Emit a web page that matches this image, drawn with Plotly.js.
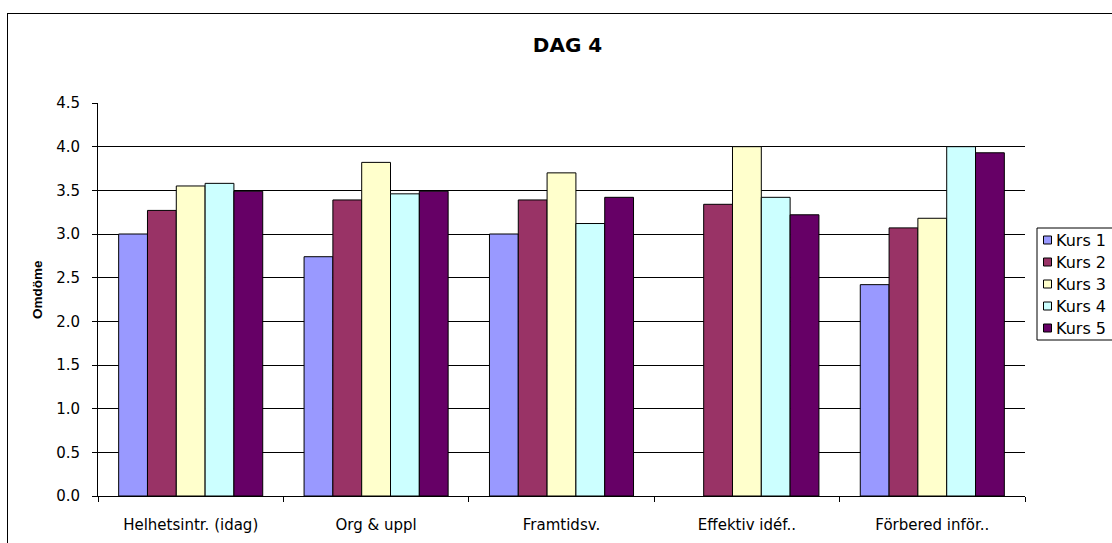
<!DOCTYPE html>
<html>
<head>
<meta charset="utf-8">
<script src="https://cdn.plot.ly/plotly-3.0.1.min.js"></script>
<style>
  html, body { margin: 0; padding: 0; overflow: hidden; background: #fff; }
  #frame { position: absolute; left: 7px; top: 13px; width: 1200px; height: 600px;
           border-left: 1px solid #000; border-top: 1px solid #000; pointer-events: none; z-index: 5; }
  #chart { position: absolute; left: 0; top: 0; width: 1112px; height: 543px; }
</style>
</head>
<body>
<div id="chart"></div>
<div id="frame"></div>
<script>
const categories = ["Helhetsintr. (idag)", "Org & uppl", "Framtidsv.", "Effektiv idéf..", "Förbered inför.."];
const seriesNames = ["Kurs 1", "Kurs 2", "Kurs 3", "Kurs 4", "Kurs 5"];
const kurs1 = [3.00, 2.74, 3.00, null, 2.42];
const kurs2 = [3.27, 3.39, 3.39, 3.34, 3.07];
const kurs3 = [3.55, 3.82, 3.70, 4.00, 3.18];
const kurs4 = [3.58, 3.46, 3.12, 3.42, 4.00];
const kurs5 = [3.49, 3.49, 3.42, 3.22, 3.93];
const seriesValues = [kurs1, kurs2, kurs3, kurs4, kurs5];
const colors = ["#9999FF", "#993366", "#FFFFCC", "#CCFFFF", "#660066"];
const yTicks = [0, 0.5, 1, 1.5, 2, 2.5, 3, 3.5, 4, 4.5];
const yTitle = "Omdöme";
const chartTitle = "DAG 4";

const font = "DejaVu Sans, sans-serif";

// plot-area geometry (pixels) used to place the legend box in paper coordinates
const W = 1112, H = 543, ML = 98, MR = 87, MT = 103, MB = 47;
const PW = W - ML - MR, PH = H - MT - MB;
const px = v => (v - ML) / PW;
const py = v => (H - MB - v) / PH;

const traces = seriesNames.map((name, i) => ({
  type: "bar",
  name: name,
  x: categories,
  y: seriesValues[i],
  marker: { color: colors[i], line: { color: "#000", width: 1 } },
  showlegend: false
}));

// Legend drawn as a boxed list (box edge runs past the page like the reference)
const legendTop = 228, legendBottom = 340, legendLeft = 1037, itemStep = 22, firstItem = 240;
const shapes = [{
  type: "rect", xref: "paper", yref: "paper",
  x0: px(legendLeft), x1: px(1300), y0: py(legendBottom), y1: py(legendTop),
  line: { color: "#000", width: 1 }, fillcolor: "#fff", layer: "above"
}];
const annotations = [{
  xref: "paper", yref: "paper", x: px(37), y: py(289),
  xanchor: "center", yanchor: "middle", showarrow: false, textangle: -90,
  text: "<b>" + yTitle + "</b>",
  font: { family: "Liberation Sans, Arial, sans-serif", size: 13.5, color: "#000" }
}];
seriesNames.forEach((name, i) => {
  const cy = firstItem + itemStep * i;
  shapes.push({
    type: "rect", xref: "paper", yref: "paper",
    x0: px(1043.5), x1: px(1051.5), y0: py(cy + 4), y1: py(cy - 4),
    line: { color: "#000", width: 1 }, fillcolor: colors[i], layer: "above"
  });
  annotations.push({
    xref: "paper", yref: "paper", x: px(1054), y: py(cy + 0.5),
    xanchor: "left", yanchor: "middle", showarrow: false,
    text: name, font: { family: font, size: 16, color: "#000" }
  });
});

const layout = {
  width: W,
  height: H,
  paper_bgcolor: "#fff",
  plot_bgcolor: "#fff",
  margin: { l: ML, r: MR, t: MT, b: MB, autoexpand: false },
  bargap: 0.223,
  bargroupgap: 0,
  barmode: "group",
  font: { family: font, size: 15, color: "#000" },
  title: {
    text: "<b>" + chartTitle + "</b>",
    font: { family: font, size: 20, color: "#000" },
    x: px(567.5), xref: "paper", xanchor: "center",
    y: 1 - 45 / H, yref: "container", yanchor: "middle"
  },
  xaxis: {
    type: "category",
    showline: true, linecolor: "#000", linewidth: 1,
    ticks: "outside", ticklen: 5, tickcolor: "#000",
    tickson: "boundaries",
    ticklabelstandoff: 15,
    showgrid: false,
    tickfont: { family: font, size: 15, color: "#000" },
    automargin: false
  },
  yaxis: {
    range: [0, 4.5],
    tickvals: yTicks,
    ticktext: yTicks.map(v => v.toFixed(1)),
    showline: true, linecolor: "#000", linewidth: 1,
    ticks: "outside", ticklen: 5, tickcolor: "#000",
    ticklabelstandoff: 9,
    showgrid: true, gridcolor: "#000", gridwidth: 1,
    zeroline: false,
    tickfont: { family: font, size: 15, color: "#000" },
    automargin: false
  },
  showlegend: false,
  shapes: shapes,
  annotations: annotations
};

Plotly.newPlot("chart", traces, layout, { displayModeBar: false, staticPlot: true });
</script>
</body>
</html>
